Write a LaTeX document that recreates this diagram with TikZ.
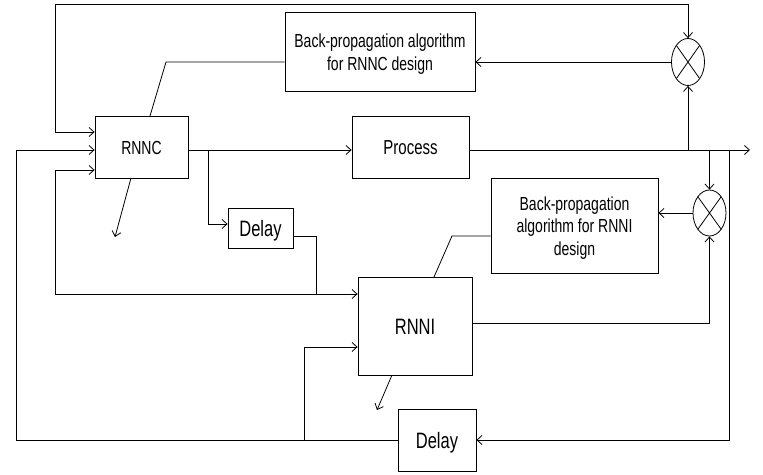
\documentclass[tikz,border=0pt]{standalone}
\usepackage{fontspec}
\setmainfont{Liberation Sans}
\usepackage{graphicx}
\usetikzlibrary{shapes.geometric,arrows.meta}

\newcommand{\vtext}[1]{\raisebox{-3pt}[\height][\depth]{\scalebox{1}[1.35]{\begin{tabular}{@{}c@{}}#1\end{tabular}}}}

\tikzset{
  block/.style={draw, rectangle, inner sep=0pt, font=\fontsize{14}{16.5}\selectfont},
  bigtext/.style={font=\fontsize{16.5}{19}\selectfont},
  summer/.style={draw, ellipse, minimum width=33pt, minimum height=47pt, inner sep=0pt,
    path picture={\draw (path picture bounding box.north west) -- (path picture bounding box.south east)
                        (path picture bounding box.north east) -- (path picture bounding box.south west);}},
}

\begin{document}
\begin{tikzpicture}[x=1pt, y=-1pt, line width=0.8pt, >={Straight Barb[length=5pt,width=9pt]}]
  \useasboundingbox (0,0) rectangle (763,474);

  % blocks
  \node[block, minimum width=93pt, minimum height=62pt] (rnnc) at (141.5,147) {\vtext{RNNC}};
  \node[block, minimum width=117pt, minimum height=62pt, font=\fontsize{15}{18}\selectfont] (process) at (410.5,147) {\vtext{Process}};
  \node[block, minimum width=190pt, minimum height=79pt] (bpc) at (380,51.5) {\vtext{Back-propagation algorithm\\for RNNC design}};
  \node[block, bigtext, minimum width=65pt, minimum height=40pt] (delayc) at (260.5,228) {\vtext{Delay}};
  \node[block, minimum width=167pt, minimum height=95pt] (bpi) at (574.5,225.5) {\vtext{Back-propagation\\algorithm for RNNI\\design}};
  \node[block, bigtext, minimum width=114pt, minimum height=98pt] (rnni) at (415,326) {\vtext{RNNI}};
  \node[block, bigtext, minimum width=78pt, minimum height=62pt] (delayi) at (437,440) {\vtext{Delay}};
  \node[summer] (sumc) at (688,62) {};
  \node[summer, minimum height=46pt] (sumi) at (709.5,213) {};
  \coordinate (yout) at (750,150);

  % controller side
  \draw[->] (rnnc.east |- yout) -- (process.west |- yout);
  \draw[->] (process.east |- yout) -- (yout);
  \draw[<->] (rnnc.west |- 0,132) -- (55,132) -- (55,4) -- (sumc.north |- 0,4) -- (sumc.north);
  \draw[->] (sumc.south |- yout) -- (sumc.south);
  \draw[->] (sumc.west) -- (sumc.west -| bpc.east);
  \draw (bpc.west |- sumc.west) -- (166,62) -- (150,116);
  \draw[->] (131,178) -- (115,237);
  \draw[->] (208,150) -- (208,224) -- (delayc.west |- 0,224);
  \draw (delayc.east |- 0,236) -- (316,236) -- (316,294);
  \draw[<->] (rnnc.west |- 0,170) -- (55,170) -- (55,294) -- (rnni.west |- 0,294);

  % identifier side
  \draw[->] (sumi.north |- yout) -- (sumi.north);
  \draw[->] (rnni.east |- 0,323) -- (sumi.south |- 0,323) -- (sumi.south);
  \draw[->] (sumi.west) -- (sumi.west -| bpi.east);
  \draw (bpi.west |- 0,236) -- (452,236) -- (434,277);
  \draw[->] (392,375) -- (377,410);
  \draw[->] (729,150) -- (729,440) -- (delayi.east);
  \draw[->] (delayi.west) -- (16,440) -- (16,150) -- (rnnc.west |- yout);
  \draw[->] (304,440) -- (304,347) -- (rnni.west |- 0,347);
\end{tikzpicture}
\end{document}
